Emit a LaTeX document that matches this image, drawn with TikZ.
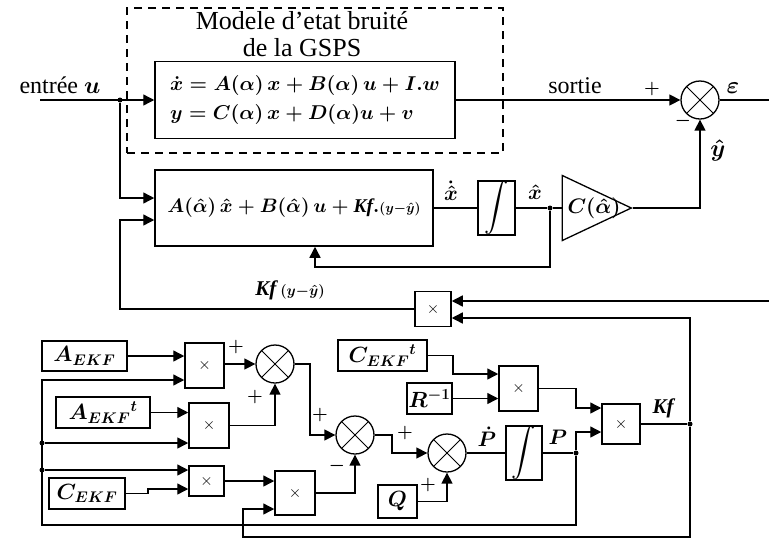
\RequirePackage{fix-cm}
\documentclass[tikz,border=0pt]{standalone}
\usepackage{fontspec}
\setmainfont{Liberation Serif}
\usetikzlibrary{arrows.meta,shapes.geometric}
\newcommand{\bigint}{\resizebox{!}{38pt}{$\displaystyle\int$}}
\tikzset{
  wire/.style={line width=1.4pt},
  arr/.style={wire,-{Triangle[length=11pt,width=11pt]}},
  blk/.style={draw,line width=1.5pt,fill=white,inner sep=0pt,font=\fontsize{22}{24}\selectfont\boldmath},
  eqblk/.style={blk,font=\fontsize{20}{23}\selectfont\boldmath},
  mult/.style={blk,font=\fontsize{16}{18}\selectfont},
  intg/.style={blk,font=\fontsize{18}{20}\selectfont},
  sumc/.style={draw,circle,line width=1.3pt,minimum size=38pt,inner sep=0pt,fill=white,
    path picture={\draw[line width=0.9pt] (path picture bounding box.north west) -- (path picture bounding box.south east)
      (path picture bounding box.north east) -- (path picture bounding box.south west);}},
  dotj/.style={circle,fill,inner sep=0pt,minimum size=5pt},
  lbl/.style={inner sep=0pt,font=\fontsize{24}{26}\selectfont\boldmath},
  ttl/.style={inner sep=0pt,font=\fontsize{26}{27}\selectfont},
  mlbl/.style={inner sep=0pt,font=\fontsize{21}{23}\selectfont\boldmath},
  sgn/.style={inner sep=0pt,font=\fontsize{18}{20}\selectfont\boldmath},
}
\begin{document}
\begin{tikzpicture}[x=1pt,y=-1pt]
\useasboundingbox (0,0) rectangle (769,539);
% ---------- plant ----------
\node[draw,line width=1.3pt,dash pattern=on 8pt off 6pt,minimum width=376pt,minimum height=145pt,inner sep=0pt] (dbox) at (315,80.5) {};
\node[ttl,align=center] (title) at (302,34) {Modele d'etat bruité\\de la GSPS};
\node[eqblk,minimum width=300pt,minimum height=77pt,align=left] (model) at (305,100)
  {$\dot{x} = A(\alpha)\,x + B(\alpha)\,u + I.w$\\[6pt]$y = C(\alpha)\,x + D(\alpha)u + v$};
\node[lbl] (lin) at (60,85) {entrée $u$};
\coordinate (uin) at (40,100);
\node[dotj] (j1) at (120,100) {};
\draw[arr] (uin) -- (model.west);
\node[lbl] (lsort) at (575,86) {sortie};
\node[sumc] (s0) at (700,100) {};
\draw[arr] (model.east) -- (s0.west);
\node[sgn] (p0) at (652,89) {$+$};
\node[sgn] (n0) at (683,121) {$-$};
\node[lbl] (leps) at (733,88) {$\varepsilon$};
\coordinate (eout) at (769,100);
\draw[wire] (s0.east) -- (eout);
% ---------- observer ----------
\node[blk,font=\fontsize{19.5}{22}\selectfont\boldmath,minimum width=278pt,minimum height=76pt] (obs) at (294,208)
  {$A(\hat{\alpha})\,\hat{x} + B(\hat{\alpha})\,u + \mathit{Kf}.{\scriptstyle(y-\hat{y})}$};
\draw[arr] (j1) |- ([yshift=10pt]obs.west);
\node[intg,minimum width=37pt,minimum height=50pt] (int1) at (496.5,208) {\bigint};
\draw[wire] (obs.east) -- (int1.west);
\node[mlbl] (lxd) at (451,191) {$\dot{\hat{x}}$};
\node[dotj] (j2) at (550,208) {};
\draw[wire] (int1.east) -- (j2);
\node[mlbl] (lxh) at (535,192) {$\hat{x}$};
\node[draw,line width=1.3pt,isosceles triangle,isosceles triangle stretches,minimum width=65pt,minimum height=69pt,inner sep=0pt,anchor=apex] (gain) at (633,208) {};
\draw[wire] (j2) -- (gain.west |- j2);
\node[mlbl] (lgain) at (594,208) {$C(\hat{\alpha})$};
\draw[arr] (gain.apex) -| (s0.south);
\node[lbl] (lyh) at (718,150) {$\hat{y}$};
\coordinate (fb1) at (315,267);
\draw[arr] (j2) |- (fb1) -- (fb1 |- obs.south);
\node[mult,minimum width=36pt,minimum height=35pt] (m0) at (433,309) {$\times$};
\coordinate (fbc) at (120,309);
\draw[arr] (m0.west) -- (fbc) |- ([yshift=-12pt]obs.west);
\node[mlbl] (lkfy) at (290,290) {$\mathit{Kf}\,{\scriptstyle(y-\hat{y})}$};
\coordinate (ein) at (769,301);
\draw[arr] (ein) -- (m0.east |- ein);
% ---------- EKF gain computation ----------
\node[blk,minimum width=85pt,minimum height=30pt] (aekf) at (84.5,356) {$A_{EKF}$};
\node[mult,minimum width=39pt,minimum height=45pt] (m1) at (204.5,365.5) {$\times$};
\node[sumc] (s1) at (275,364) {};
\node[blk,minimum width=94pt,minimum height=31pt] (aekft) at (103,412.5) {$A_{EKF}{}^{t}$};
\node[mult,minimum width=40pt,minimum height=45pt] (m2) at (209,425.5) {$\times$};
\node[mult,minimum width=35pt,minimum height=30pt] (m3) at (206.5,481) {$\times$};
\node[blk,minimum width=76pt,minimum height=31pt] (cekf) at (87,493.5) {$C_{EKF}$};
\node[mult,minimum width=40pt,minimum height=44pt] (m4) at (295,493) {$\times$};
\node[sumc] (s2) at (355,435) {};
\node[blk,minimum width=89pt,minimum height=31pt] (cekft) at (382.5,355.5) {$C_{EKF}{}^{t}$};
\node[mult,minimum width=39pt,minimum height=45pt] (m5) at (518.5,388.5) {$\times$};
\node[blk,minimum width=45pt,minimum height=31pt] (rinv) at (429.5,398.5) {$R^{-1}$};
\node[mult,minimum width=38pt,minimum height=40pt] (m6) at (621,424) {$\times$};
\node[sumc] (s3) at (447,453) {};
\node[blk,minimum width=39pt,minimum height=33pt] (qb) at (397.5,501.5) {$Q$};
\node[intg,minimum width=36pt,minimum height=51pt] (int2) at (524,453) {\bigint};
\node[dotj] (pj) at (576,453) {};
\node[dotj] (kfj) at (690,424) {};
\node[dotj] (bj1) at (42,443) {};
\node[dotj] (bj2) at (42,470) {};
\coordinate (b1) at (42,380);
\coordinate (b2) at (42,525);
% wires
\draw[arr] (aekf.east) -- (m1.west |- aekf.east);
\draw[arr] (pj) |- (b2) -- (b1) -- (m1.west |- b1);
\draw[arr] (bj1) -- (m2.west |- bj1);
\draw[arr] (bj2) -- (m3.west |- bj2);
\draw[arr] (aekft.east) -- (m2.west |- aekft.east);
\draw[arr] (m1.east |- s1) -- (s1.west);
\draw[arr] (m2.east) -| (s1.south);
\coordinate (c1) at (310,364);
\draw[arr] (s1.east) -- (c1) |- (s2.west);
\coordinate (c2) at (148,489);
\draw[arr] (cekf.east) -| (c2) -- (m3.west |- c2);
\draw[arr] (m3.east) -- (m4.west |- m3.east);
\coordinate (c3) at (243,537);
\coordinate (kfb) at (690,537);
\draw[arr] (kfj) -- (kfb) -- (c3) |- ([yshift=-16pt]m4.west);
\draw[arr] (kfj) |- ([yshift=-9pt]m0.east);
\draw[arr] (m4.east) -| (s2.south);
\coordinate (c4) at (392,435);
\draw[arr] (s2.east) -- (c4) |- (s3.west);
\draw[arr] (qb.east) -| (s3.south);
\draw[wire] (s3.east) -- (int2.west);
\draw[wire] (int2.east) -- (pj);
\draw[arr] (pj) |- ([yshift=-8pt]m6.west);
\coordinate (c5) at (453,374);
\draw[arr] (cekft.east) -| (c5) -- (m5.west |- c5);
\draw[arr] (rinv.east) -- (m5.west |- rinv.east);
\coordinate (c6) at (576,408);
\draw[arr] (m5.east) -| (c6) -- (m6.west |- c6);
\draw[wire] (m6.east) -- (kfj);
% labels
\node[sgn] (pa) at (236,347) {$+$};
\node[sgn] (pb) at (255,397) {$+$};
\node[sgn] (pc) at (320,415) {$+$};
\node[sgn] (nd) at (337,466) {$-$};
\node[sgn] (pe) at (405,433) {$+$};
\node[sgn] (pf) at (428,485) {$+$};
\node[mlbl] (lpd) at (487,437) {$\dot{P}$};
\node[mlbl] (lp) at (558,437) {$P$};
\node[mlbl] (lkf) at (663,408) {$\mathit{Kf}$};
\end{tikzpicture}
\end{document}
